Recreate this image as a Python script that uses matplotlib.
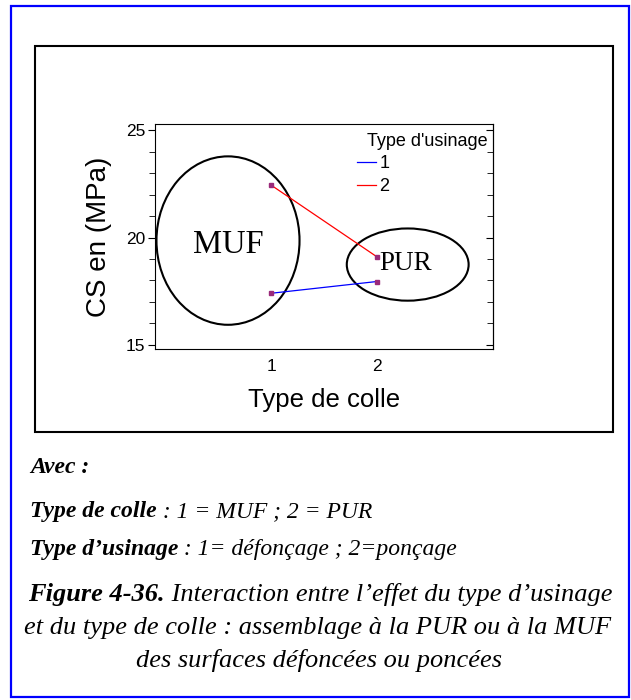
import matplotlib.pyplot as plt
from matplotlib.patches import Ellipse, Rectangle

# interaction plot: CS by glue type, one line per machining type
glue_types = [1, 2]
usinage_labels = ["1", "2"]
cs_usinage1 = [17.4, 17.95]
cs_usinage2 = [22.45, 19.1]
line_colors = ["blue", "red"]

W, H = 631, 700
fig = plt.figure(figsize=(W / 100, H / 100), dpi=100)

def fx(px):
    return px / W

def fy(py):
    return 1 - py / H

# outer blue frame and inner black frame
fig.add_artist(Rectangle((fx(10.5), fy(697)), fx(629) - fx(10.5), fy(5.5) - fy(697),
                         transform=fig.transFigure, fill=False, edgecolor="blue", lw=1.6))
fig.add_artist(Rectangle((fx(35), fy(432)), fx(613) - fx(35), fy(46) - fy(432),
                         transform=fig.transFigure, fill=False, edgecolor="black", lw=1.5))

ax = fig.add_axes([fx(155), fy(349), fx(493) - fx(155), fy(124) - fy(349)])

for vals, lab, col in zip([cs_usinage1, cs_usinage2], usinage_labels, line_colors):
    ax.plot(glue_types, vals, color=col, lw=0.9, label=lab)
    ax.plot(glue_types, vals, ls="none", marker="s", ms=2.5, color="#9a2a7a")

ax.add_patch(Ellipse((0.594, 19.86), 1.35, 7.86, fill=False, ec="black", lw=1.5))
ax.add_patch(Ellipse((2.29, 18.74), 1.15, 3.37, fill=False, ec="black", lw=1.5))
ax.text(0.594, 19.65, "MUF", family="Liberation Serif", fontsize=23.5, ha="center", va="center")
ax.text(2.27, 18.77, "PUR", family="Liberation Serif", fontsize=19.5, ha="center", va="center")

ax.set_xlim(-0.095, 3.095)
ax.set_ylim(14.8, 25.3)
ax.set_xticks(glue_types)
ax.set_yticks([15, 20, 25])
ax.set_yticks(range(15, 26), minor=True)
ax.tick_params(axis="x", length=0, labelsize=12.5, pad=7)
ax.tick_params(axis="y", which="both", labelsize=12.5, direction="out", pad=2)
ax.tick_params(axis="y", which="major", length=5)
ax.tick_params(axis="y", which="minor", length=4)
for lbl in ax.get_xticklabels() + ax.get_yticklabels():
    lbl.set_family("Liberation Sans")

# right side ticks point inward
sec = ax.secondary_yaxis("right")
sec.set_yticks([15, 20, 25])
sec.set_yticks(range(15, 26), minor=True)
sec.tick_params(which="both", direction="in", labelright=False)
sec.tick_params(which="major", length=5)
sec.tick_params(which="minor", length=4)

ax.set_xlabel("Type de colle", family="Liberation Sans", fontsize=18.5, labelpad=10)
ax.set_ylabel("CS en (MPa)", family="Liberation Sans", fontsize=20, labelpad=10)

# legend: title right-aligned, entries slightly to its left
ax.text((488 - 155) / (493 - 155), 1 - (141 - 124) / (349 - 124), "Type d'usinage",
        transform=ax.transAxes, ha="right", va="center",
        family="Liberation Sans", fontsize=13)
leg = ax.legend(loc="upper left", frameon=False,
                bbox_to_anchor=((357 - 155) / (493 - 155), 1 - (155 - 124) / (349 - 124)),
                handlelength=1.05, handletextpad=0.2, labelspacing=0.33,
                borderaxespad=0, borderpad=0,
                prop={"family": "Liberation Sans", "size": 13})

serif = "Liberation Serif"
renderer = fig.canvas.get_renderer()

def run_line(runs, y, size, x=None, center=None):
    # runs: list of (text, weight); place them one after another on a baseline
    widths = []
    for s, w in runs:
        t = fig.text(0, 0, s, family=serif, style="italic", weight=w, fontsize=size)
        widths.append(t.get_window_extent(renderer).width)
        t.remove()
    if center is not None:
        x = center - sum(widths) / 2
    for (s, w), wd in zip(runs, widths):
        fig.text(fx(x), fy(y), s, family=serif, style="italic", weight=w,
                 fontsize=size, va="baseline")
        x += wd

run_line([("Avec :", "bold")], 473, 17, x=30)
run_line([("Type de colle", "bold"), (" : 1 = MUF ; 2 = PUR", "normal")], 517, 17, x=30)
run_line([("Type d\u2019usinage", "bold"), (" : 1= d\u00e9fon\u00e7age ; 2=pon\u00e7age", "normal")],
         555, 17, x=30)

run_line([("Figure 4-36.", "bold"), (" Interaction entre l\u2019effet du type d\u2019usinage", "normal")],
         601, 19, center=320)
run_line([("et du type de colle : assemblage \u00e0 la PUR ou \u00e0 la MUF", "normal")],
         634, 19, center=318)
run_line([("des surfaces d\u00e9fonc\u00e9es ou ponc\u00e9es", "normal")], 667, 19, center=319)

fig.savefig("out.png", dpi=100)
